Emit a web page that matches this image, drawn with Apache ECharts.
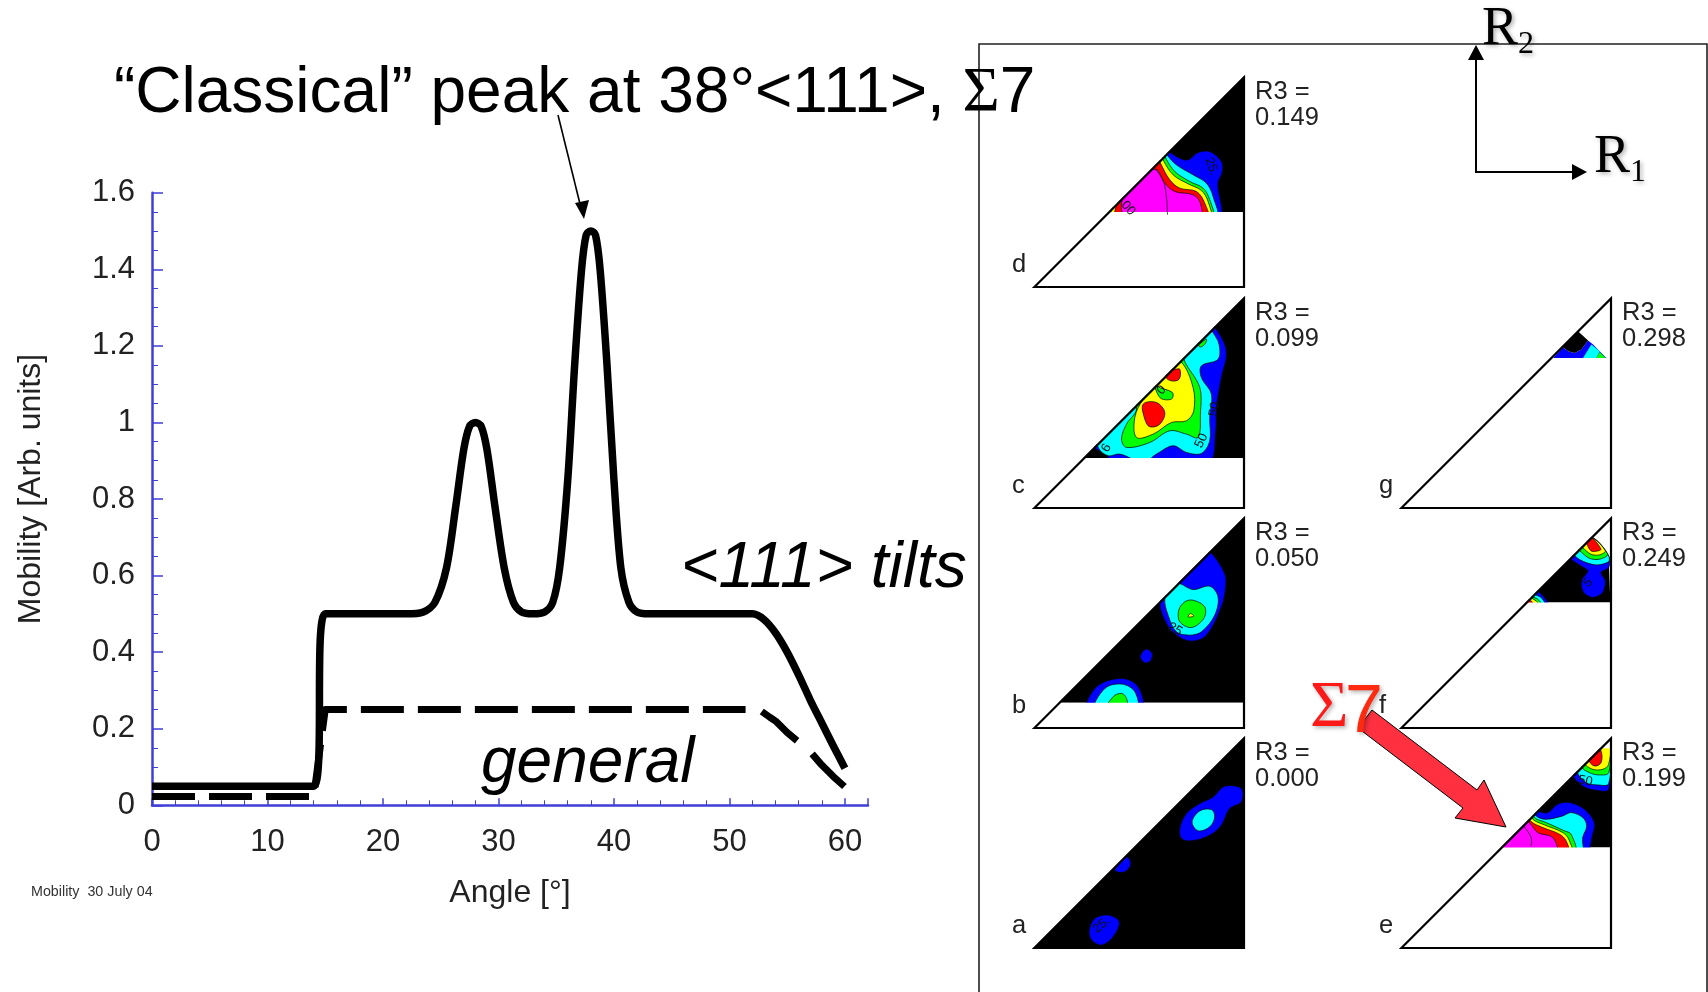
<!DOCTYPE html>
<html><head><meta charset="utf-8">
<style>html,body{margin:0;padding:0;background:#fff}#c{width:1708px;height:992px}</style>
<script src="https://cdn.jsdelivr.net/npm/echarts@6/dist/echarts.min.js"></script>
</head><body><div id="c"></div>
<script>
// ---- line chart data (angle in degrees, mobility in arbitrary units)
const tiltsAngle = [0,14,15,22,23.5,24.5,25.5,26.3,27,27.5,28,28.5,29,29.7,30.5,31.3,32,33,34,34.7,35.3,36,36.6,37.2,37.6,38,38.4,38.8,39.4,40,40.6,41.3,42,43,52,53,54,55,56,57,58,59,60];
const tiltsMobility = [.05,.05,.5,.5,.505,.53,.62,.78,.93,.99,1,.99,.93,.78,.62,.53,.505,.5,.505,.53,.62,.85,1.15,1.4,1.49,1.5,1.49,1.4,1.15,.85,.62,.53,.505,.5,.5,.485,.45,.4,.34,.275,.215,.155,.097];
const generalAngle = [0,14,15,51.4];
const generalMobility = [.023,.023,.25,.25];
const generalTailAngle = [52.8,53.5,54,55,56,57,58,59,60];
const generalTailMobility = [.245,.23,.22,.19,.165,.14,.105,.075,.048];

// ---- contour maps: regions are [level, outline in R1,R2 map units]; level 0 black .. 6 magenta, 7 white, null = bare contour line
const levelNames = ['#000000','#0000ff','#00ffff','#00ff00','#ffff00','#ff0000','#ff00ff','#ffffff'];
const panelD = [
 [0,[[228,228],[639,639],[639,228]]],
 [1,[[414,410],[444,390],[469,385],[499,407],[534,410],[569,380],[572,350],[559,315],[559,210],[200,210],[400,440]]],
 [2,[[406,400],[434,370],[484,340],[524,315],[544,275],[552,210],[200,210],[390,430]]],
 [3,[[400,393],[429,350],[474,320],[514,300],[534,265],[541,210],[205,210],[385,425]]],
 [4,[[394,385],[424,340],[469,313],[509,293],[529,260],[534,210],[240,210],[380,420]]],
 [5,[[387,373],[414,325],[444,300],[494,290],[519,255],[526,210],[252,210],[370,410]]],
 [6,[[371,357],[399,315],[429,290],[484,280],[506,255],[504,210],[284,210],[269,255],[300,320]]],
 [null,[[371,357],[397,315],[407,220]]]
];
const panelC = [
 [0,[[153,153],[639,639],[639,153]]],
 [1,[[549,547],[584,475],[569,395],[554,305],[552,235],[529,140],[254,140],[214,170],[189,185],[150,400],[500,600]]],
 [2,[[544,530],[562,495],[559,450],[509,430],[509,395],[539,345],[534,275],[534,205],[509,167],[464,170],[424,190],[374,165],[334,140],[264,165],[229,160],[199,185],[180,300],[500,600]]],
 [3,[[499,495],[524,510],[519,495],[504,487],[495,515]]],
 [3,[[459,443],[504,365],[506,285],[499,215],[464,225],[414,235],[354,200],[284,185],[269,210],[284,255],[314,300],[300,400],[450,480]]],
 [4,[[447,443],[484,365],[486,295],[464,265],[419,260],[364,225],[314,215],[309,275],[334,330],[364,360],[400,450]]],
 [3,[[374,370],[422,350],[419,330],[384,335],[360,400]]],
 [5,[[424,420],[444,420],[442,390],[419,385],[402,397],[410,440]]],
 [5,[[334,315],[374,320],[399,290],[384,255],[354,247],[339,270]]]
];
const panelB = [
 [0,[[79,79],[639,639],[639,79]]],
 [1,[[539,529],[579,467],[582,427],[569,367],[524,282],[479,264],[434,282],[404,317],[384,377],[400,420],[500,560]]],
 [2,[[444,437],[484,419],[534,429],[559,397],[549,342],[509,292],[474,282],[434,292],[409,342],[399,392],[420,440]]],
 [3,[[484,387],[519,367],[516,332],[479,305],[444,322],[441,357],[459,382]]],
 [4,[[476,347],[486,339],[469,337]]],
 [1,[[342,240],[361,227],[356,205],[339,199],[325,217]]],
 [1,[[167,60],[194,127],[269,152],[319,127],[329,60]]],
 [2,[[189,60],[219,122],[269,135],[309,112],[314,60]]],
 [3,[[224,60],[244,97],[269,107],[284,92],[284,60]]]
];
const panelA = [
 [0,[[0,0],[639,639],[639,0]]],
 [1,[[444,362],[464,407],[504,437],[544,457],[579,489],[629,482],[629,442],[594,422],[569,372],[534,342],[479,325],[449,332]]],
 [2,[[481,382],[504,415],[539,419],[549,397],[534,367],[499,355]]],
 [1,[[249,237],[284,277],[297,257],[284,235],[264,230]]],
 [1,[[172,57],[189,92],[229,102],[262,82],[244,37],[209,12],[179,27]]]
];
const panelE = [
 [0,[[305,305],[607,607],[635,607],[635,305]]],
 [1,[[522,525],[552,490],[592,477],[630,480],[630,620],[540,580]]],
 [2,[[534,537],[562,500],[597,493],[630,497],[630,620],[540,600]]],
 [3,[[547,550],[572,530],[602,523],[630,530],[630,620],[550,610]]],
 [4,[[557,560],[582,540],[612,540],[630,555],[630,620],[560,620]]],
 [5,[[570,570],[587,550],[607,560],[607,595],[585,620]]],
 [7,[[590,603],[640,603],[640,640],[590,640]]],
 [1,[[422,415],[447,410],[477,435],[512,440],[557,420],[587,380],[582,345],[560,290],[300,290],[380,470]]],
 [2,[[412,400],[442,390],[492,400],[517,410],[552,395],[564,370],[552,335],[547,290],[300,290],[380,450]]],
 [3,[[407,395],[442,380],[497,355],[517,345],[527,290],[300,290],[380,440]]],
 [4,[[402,390],[437,373],[492,350],[510,330],[517,290],[300,290],[380,430]]],
 [5,[[397,383],[432,365],[482,345],[502,325],[507,290],[300,290],[370,420]]],
 [6,[[392,380],[417,350],[462,335],[472,290],[300,290],[360,410]]],
 [null,[[374,370],[397,335],[397,310]]]
];
const panelF = [
 [0,[[380,380],[575,575],[607,540],[630,515],[635,380]]],
 [1,[[517,510],[547,490],[567,475],[548,445],[555,410],[582,395],[612,410],[620,445],[607,470],[630,485],[630,520],[579,575],[500,540]]],
 [2,[[532,517],[562,500],[597,493],[630,503],[630,520],[579,575],[510,545]]],
 [3,[[544,535],[572,513],[602,510],[627,525],[579,575],[525,555]]],
 [4,[[552,545],[577,525],[602,523],[620,535],[579,575],[535,565]]],
 [5,[[562,560],[577,535],[597,535],[607,540],[579,575],[550,575]]],
 [1,[[417,415],[437,395],[450,370],[380,370],[400,430]]],
 [2,[[407,405],[427,395],[440,370],[380,370],[395,420]]],
 [3,[[402,397],[417,390],[430,370],[380,370],[390,410]]],
 [4,[[399,393],[412,385],[422,370],[380,370],[388,405]]],
 [5,[[392,388],[402,380],[402,370],[380,370],[380,400]]]
];
const panelG = [
 [1,[[463,454],[493,486],[508,474],[528,469],[548,479],[568,506],[583,494],[623,454]]],
 [0,[[493,486],[538,534],[568,506],[548,479],[528,469],[508,474]]],
 [2,[[553,454],[578,494],[603,474],[593,454]]],
 [3,[[593,454],[603,472],[621,454]]]
];
const panelSeries = [panelA,panelB,panelC,panelD,panelE,panelF,panelG];
const panelCut = [0,79,153,228,305,380,454];
const panelSmooth = [.35,.35,.35,.35,.35,.3,0];
const panelLetter = ['a','b','c','d','e','f','g'];
const panelR3 = ['0.000','0.050','0.099','0.149','0.199','0.249','0.298'];
const panelTags = [
 [['25.',209,72,40]],
 [['25',430,300,-30]],
 [['6',224,183,60],['50',509,205,65],['0',389,357,45],['50',548,300,80]],
 [['25.',539,365,-70],['00',289,240,-50]],
 [['50',560,505,-10]],
 [['5',568,440,45]],
 [[]]
];
const panelBox = [[1032,736],[1032,516],[1032,296],[1032,75],[1399,736],[1399,516],[1399,296]];
const panelSize = 213;

// ---- text
const titleText = '“Classical” peak at 38°<111>, ';
const yTicks = {0:'0',0.2:'0.2',0.4:'0.4',0.6:'0.6',0.8:'0.8',1:'1',1.2:'1.2',1.4:'1.4',1.6:'1.6'};

const axisBlue = '#3f3fd8', ink = '#222', sans = '"Liberation Sans",Arial,sans-serif', serif = '"Liberation Serif",serif';
const grids = [{left:152,top:192.7,width:716,height:612.6}];
const xAxes = [{type:'value',gridIndex:0,min:0,max:62,interval:10,name:'Angle [°]',nameLocation:'middle',nameGap:72,nameTextStyle:{fontSize:32,color:ink,fontFamily:sans},
  axisLine:{onZero:false,lineStyle:{color:axisBlue,width:2.5}},axisTick:{inside:true,length:7,lineStyle:{color:axisBlue,width:1.5}},minorTick:{show:true,splitNumber:5,length:5,lineStyle:{color:axisBlue,width:1}},
  splitLine:{show:false},axisLabel:{fontSize:31,color:ink,fontFamily:sans,margin:22,showMaxLabel:false}}];
const yAxes = [{type:'value',gridIndex:0,min:0,max:1.6,interval:.2,name:'Mobility [Arb. units]',nameLocation:'middle',nameGap:105,nameTextStyle:{fontSize:32,color:ink,fontFamily:sans,padding:[0,0,0,20]},
  axisLine:{show:true,onZero:false,lineStyle:{color:axisBlue,width:2.5}},axisTick:{show:true,inside:true,length:11,lineStyle:{color:axisBlue,width:1.5}},minorTick:{show:true,splitNumber:4,length:6,lineStyle:{color:axisBlue,width:1}},
  splitLine:{show:false},axisLabel:{fontSize:31,color:ink,fontFamily:sans,margin:17,padding:[6,0,0,0],formatter:v=>yTicks[+v.toFixed(1)]}}];
const series = [
 {type:'line',xAxisIndex:0,yAxisIndex:0,data:generalAngle.map((a,i)=>[a,generalMobility[i]]),showSymbol:false,z:3,lineStyle:{color:'#000',width:7,type:[43,14],cap:'butt',join:'round'}},
 {type:'line',xAxisIndex:0,yAxisIndex:0,data:generalTailAngle.map((a,i)=>[a,generalTailMobility[i]]),showSymbol:false,z:3,lineStyle:{color:'#000',width:7,type:[46,20],cap:'butt',join:'round'}},
 {type:'line',xAxisIndex:0,yAxisIndex:0,data:tiltsAngle.map((a,i)=>[a,tiltsMobility[i]]),showSymbol:false,smooth:.3,z:4,lineStyle:{color:'#000',width:7.5,join:'round'}}
];
const graphic = [];
panelSeries.forEach((regions,k)=>{
  const g = k+1, cut = panelCut[k];
  grids.push({left:panelBox[k][0],top:panelBox[k][1],width:panelSize,height:panelSize});
  xAxes.push({type:'value',gridIndex:g,min:0,max:640,show:false});
  yAxes.push({type:'value',gridIndex:g,min:0,max:640,show:false});
  const masks = [[7,[[0,0],[0,640],[640,640]]]];
  if(cut>0) masks.push([7,[[0,0],[636,0],[636,cut],[cut,cut]]]);
  const lines = regions.filter(r=>r[0]===null);
  const fills = regions.filter(r=>r[0]!==null).concat(masks).concat(lines);
  series.push({type:'custom',xAxisIndex:g,yAxisIndex:g,clip:true,silent:true,z:2,data:fills.map((r,i)=>[i,0]),
    renderItem:(p,api)=>{
      const r = fills[p.dataIndex], pts = r[1].map(q=>api.coord(q));
      if(r[0]===null) return {type:'polyline',shape:{points:pts,smooth:.4},style:{fill:null,stroke:'#000',lineWidth:.7}};
      const base = r[0]===0||r[0]===7;
      return {type:'polygon',shape:{points:pts,smooth:base?0:panelSmooth[k]},style:{fill:levelNames[r[0]],stroke:(base||k===6)?null:'#000',lineWidth:.7}};
    }});
  const tags = panelTags[k].filter(t=>t.length);
  series.push({type:'custom',xAxisIndex:g,yAxisIndex:g,clip:false,silent:true,z:5,data:[[640,640]],
    renderItem:(p,api)=>{
      const a=api.coord([7.2,3]),b=api.coord([637,632.8]),c=api.coord([637,3]);
      const kids=[{type:'polygon',shape:{points:[a,b,c]},style:{fill:null,stroke:'#000',lineWidth:2.2}}];
      tags.forEach(t=>{const q=api.coord([t[1],t[2]]);kids.push({type:'text',x:q[0],y:q[1],rotation:t[3]*Math.PI/180,style:{text:t[0],fontSize:13,fontFamily:sans,fill:'#111',align:'center',verticalAlign:'middle'}});});
      return {type:'group',children:kids};
    }});
  const bx=panelBox[k][0], by=panelBox[k][1];
  graphic.push({type:'text',x:bx+223,y:by+4,z:20,style:{text:'R3 =\n'+panelR3[k],fontSize:25.5,lineHeight:26,fontFamily:sans,fill:ink}});
  graphic.push({type:'text',x:bx-20,y:by+177,z:20,style:{text:panelLetter[k],fontSize:25.5,fontFamily:sans,fill:ink}});
});
const shadow = {textShadowColor:'rgba(0,0,0,.3)',textShadowBlur:4,textShadowOffsetX:2,textShadowOffsetY:2};
graphic.push(
 {type:'rect',z:1,shape:{x:979,y:44,width:728,height:1000},style:{fill:null,stroke:'#222',lineWidth:1.6}},
 {type:'text',x:114,y:62,z:20,style:{text:titleText+'{s|Σ}{t|7}',fontSize:64,fontFamily:sans,fill:'#000',rich:{s:{fontSize:64,fontFamily:serif,fill:'#000'},t:{fontSize:64,fontFamily:sans,fill:'#000'}}}},
 {type:'line',z:20,shape:{x1:558,y1:115,x2:581,y2:208},style:{stroke:'#000',lineWidth:1.6}},
 {type:'polygon',z:20,shape:{points:[[584,219],[575,203],[589,200]]},style:{fill:'#000'}},
 {type:'text',x:681,y:537,z:20,style:{text:'<111> tilts',fontSize:64,fontStyle:'italic',fontFamily:sans,fill:'#000'}},
 {type:'text',x:481,y:732,z:20,style:{text:'general',fontSize:64,fontStyle:'italic',fontFamily:sans,fill:'#000'}},
 {type:'text',x:31,y:885,z:20,style:{text:'Mobility  30 July 04',fontSize:14.3,fontFamily:sans,fill:'#333'}},
 {type:'polyline',z:20,shape:{points:[[1476,58],[1476,172],[1573,172]]},style:{fill:null,stroke:'#000',lineWidth:2}},
 {type:'polygon',z:20,shape:{points:[[1476,45],[1468,60],[1484,60]]},style:{fill:'#000'}},
 {type:'polygon',z:20,shape:{points:[[1587,172],[1572,164],[1572,180]]},style:{fill:'#000'}},
 {type:'text',x:1482,y:3,z:20,style:Object.assign({text:'R',fontSize:54,fontFamily:serif,fill:'#000'},shadow)},
 {type:'text',x:1518,y:29,z:20,style:Object.assign({text:'2',fontSize:32,fontFamily:serif,fill:'#000'},shadow)},
 {type:'text',x:1594,y:131,z:20,style:Object.assign({text:'R',fontSize:54,fontFamily:serif,fill:'#000'},shadow)},
 {type:'text',x:1630,y:157,z:20,style:Object.assign({text:'1',fontSize:32,fontFamily:serif,fill:'#000'},shadow)},
 {type:'polygon',z:19,shape:{points:[[1358,728],[1372,710],[1477,790],[1484,780],[1506,827],[1455,818],[1463,808]]},style:{fill:'#ff3040',stroke:'#000',lineWidth:1}},
 {type:'text',x:1310,y:676,z:20,style:Object.assign({text:'Σ',fontSize:66,fontFamily:serif,fill:'#ff1a1a'},shadow)},
 {type:'text',x:1345,y:679,z:20,style:Object.assign({text:'7',fontSize:68,fontFamily:sans,fill:'#ff2a10'},shadow)}
);
const chart = echarts.init(document.getElementById('c'),null,{renderer:'canvas'});
chart.setOption({animation:false,backgroundColor:'#fff',grid:grids,xAxis:xAxes,yAxis:yAxes,series,graphic});
</script></body></html>
